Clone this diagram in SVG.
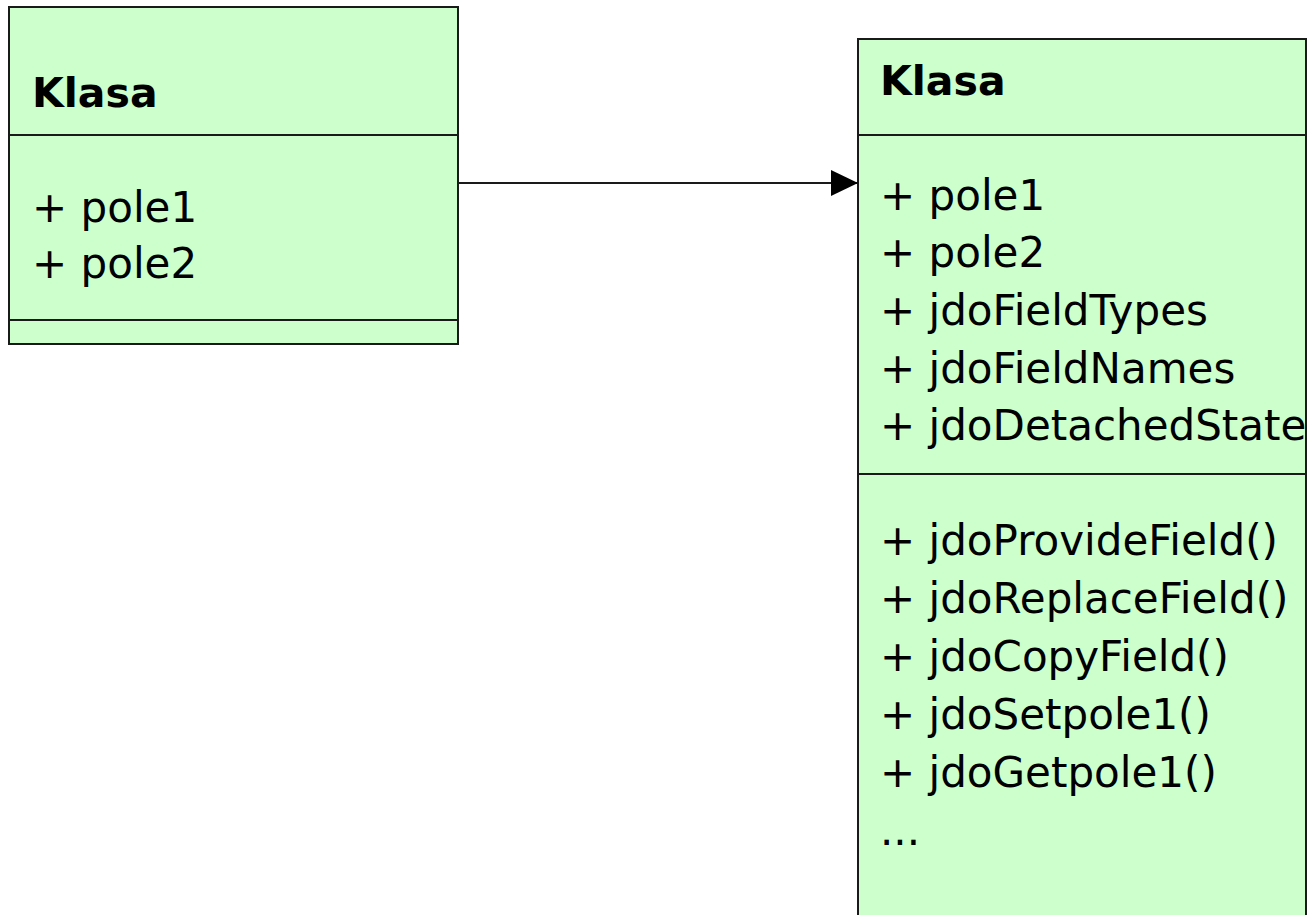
<svg xmlns="http://www.w3.org/2000/svg" width="1308" height="915" viewBox="0 0 1308 915">
  <style>
    .box { fill: #ccffcc; stroke: #1a1a1a; stroke-width: 2; }
    .sep { stroke: #1a1a1a; stroke-width: 2; }
    .title { font-family: "DejaVu Sans", Verdana, sans-serif; font-weight: bold; font-size: 41px; fill: #000; }
    .item { font-family: "DejaVu Sans", Verdana, sans-serif; font-size: 42px; fill: #000; }
    .conn { stroke: #1a1a1a; stroke-width: 2; fill: none; }
  </style>
  <defs>
    <marker id="arrow" markerUnits="userSpaceOnUse" markerWidth="28" markerHeight="28" refX="27" refY="13" orient="auto">
      <path d="M0,0 L27,13 L0,26 Z" fill="#000"/>
    </marker>
  </defs>
  <rect width="1308" height="915" fill="#fff"/>

  <!-- source class -->
  <g id="klasa-source">
    <rect class="box" x="9" y="7" width="449" height="337"/>
    <line class="sep" x1="9" y1="135" x2="458" y2="135"/>
    <line class="sep" x1="9" y1="320" x2="458" y2="320"/>
    <text class="title" x="32" y="107">Klasa</text>
    <text class="item" x="32" y="222">+ pole1</text>
    <text class="item" x="32" y="278">+ pole2</text>
  </g>

  <!-- enhanced class -->
  <g id="klasa-enhanced">
    <rect class="box" x="858" y="39" width="448" height="890"/>
    <line class="sep" x1="858" y1="135" x2="1306" y2="135"/>
    <line class="sep" x1="858" y1="474" x2="1306" y2="474"/>
    <text class="title" x="880" y="95">Klasa</text>
    <text class="item" x="880" y="210">+ pole1</text>
    <text class="item" x="880" y="267">+ pole2</text>
    <text class="item" x="880" y="325">+ jdoFieldTypes</text>
    <text class="item" x="880" y="383">+ jdoFieldNames</text>
    <text class="item" x="880" y="440">+ jdoDetachedState</text>
    <text class="item" x="880" y="555">+ jdoProvideField()</text>
    <text class="item" x="880" y="613">+ jdoReplaceField()</text>
    <text class="item" x="880" y="671">+ jdoCopyField()</text>
    <text class="item" x="880" y="729">+ jdoSetpole1()</text>
    <text class="item" x="880" y="787">+ jdoGetpole1()</text>
    <text class="item" x="880" y="845">...</text>
  </g>

  <g id="connectors">
    <line class="conn" x1="458" y1="183" x2="858" y2="183" marker-end="url(#arrow)"/>
  </g>
</svg>
